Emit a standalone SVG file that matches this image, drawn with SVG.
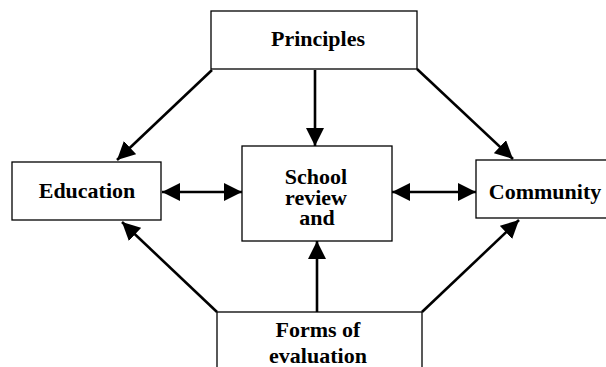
<svg xmlns="http://www.w3.org/2000/svg" width="606" height="367" viewBox="0 0 606 367">
<style>
.box{fill:#fff;stroke:#000;stroke-width:1.3}
.t{font-family:"Liberation Serif","Times New Roman",serif;font-weight:bold;font-size:22px;fill:#000;text-anchor:middle}
.c{stroke:#000;stroke-width:2.6;fill:none}
</style>
<defs>
<marker id="ah" markerUnits="userSpaceOnUse" markerWidth="19" markerHeight="18" refX="18" refY="9" orient="auto-start-reverse" viewBox="0 0 19 18">
<path d="M0,0 L18,9 L0,18 z" fill="#000"/>
</marker>
</defs>
<g id="connectors">
<line class="c" x1="212" y1="70" x2="117" y2="160" marker-end="url(#ah)"/>
<line class="c" x1="417" y1="69" x2="513" y2="159" marker-end="url(#ah)"/>
<line class="c" x1="217" y1="312" x2="122" y2="222" marker-end="url(#ah)"/>
<line class="c" x1="422" y1="312" x2="519" y2="220" marker-end="url(#ah)"/>
<line class="c" x1="315" y1="70" x2="315" y2="146" marker-end="url(#ah)"/>
<line class="c" x1="317" y1="312" x2="317" y2="241" marker-end="url(#ah)"/>
<line class="c" x1="162" y1="192" x2="242" y2="192" marker-start="url(#ah)" marker-end="url(#ah)"/>
<line class="c" x1="392" y1="192" x2="476" y2="192" marker-start="url(#ah)" marker-end="url(#ah)"/>
</g>
<g id="principles">
<rect class="box" x="211" y="11" width="206" height="58"/>
<text class="t" x="318" y="46">Principles</text>
</g>
<g id="education">
<rect class="box" x="12" y="162" width="149" height="58"/>
<text class="t" x="87" y="198">Education</text>
</g>
<g id="school">
<rect class="box" x="242" y="146" width="150" height="95"/>
<text class="t" x="316" y="184">School</text>
<text class="t" x="316" y="205">review</text>
<text class="t" x="317" y="225">and</text>
</g>
<g id="community">
<rect class="box" x="476" y="160" width="150" height="58"/>
<text class="t" x="545" y="199">Community</text>
</g>
<g id="forms">
<rect class="box" x="217" y="312" width="205" height="70"/>
<text class="t" x="318" y="337">Forms of</text>
<text class="t" x="318" y="363">evaluation</text>
</g>
</svg>
